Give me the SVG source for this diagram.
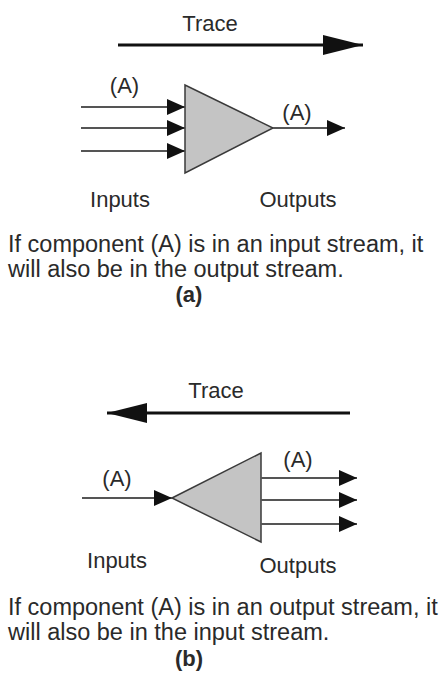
<svg xmlns="http://www.w3.org/2000/svg" width="439" height="677" viewBox="0 0 439 677">
<style>
  .lbl { font-family: "Liberation Sans", Arial, sans-serif; font-size: 22px; fill: #2a2a2a; }
  .body { font-family: "Liberation Sans", Arial, sans-serif; font-size: 23.5px; fill: #2a2a2a; }
  .cap { font-family: "Liberation Sans", Arial, sans-serif; font-size: 22px; font-weight: bold; fill: #2a2a2a; }
  .tri { fill: #c4c4c4; stroke: #3a3a3a; stroke-width: 1.5; }
  .stream { stroke: #555; stroke-width: 2; fill: none; }
  .trace { stroke: #111; stroke-width: 3; fill: none; }
</style>
<defs>
  <marker id="ah" markerUnits="userSpaceOnUse" markerWidth="18" markerHeight="16" refX="18" refY="8" orient="auto">
    <path d="M0,0 L18,8 L0,16 z" fill="#111"/>
  </marker>
  <marker id="th" markerUnits="userSpaceOnUse" markerWidth="40" markerHeight="20" refX="40" refY="10" orient="auto">
    <path d="M0,0 L40,10 L0,20 z" fill="#111"/>
  </marker>
</defs>
<rect width="439" height="677" fill="#ffffff"/>

<!-- Panel (a) -->
<g id="trace-a">
  <text class="lbl" x="210" y="31" text-anchor="middle">Trace</text>
</g>
<g id="mixer-a">
  <polygon class="tri" points="185,85 185,173 273,128"/>
</g>
<g id="labels-a">
  <text class="lbl" x="124.5" y="93" text-anchor="middle">(A)</text>
  <text class="lbl" x="297" y="120" text-anchor="middle">(A)</text>
  <text class="lbl" x="120" y="207" text-anchor="middle">Inputs</text>
  <text class="lbl" x="298" y="207" text-anchor="middle">Outputs</text>
  <text class="body" x="8" y="252">If component (A) is in an input stream, it</text>
  <text class="body" x="8" y="277">will also be in the output stream.</text>
  <text class="cap" x="189" y="302" text-anchor="middle">(a)</text>
</g>

<!-- Panel (b) -->
<g id="trace-b">
  <text class="lbl" x="216" y="398" text-anchor="middle">Trace</text>
</g>
<g id="mixer-b">
  <polygon class="tri" points="172,498 261,453 261,542"/>
</g>
<g id="labels-b">
  <text class="lbl" x="117" y="486" text-anchor="middle">(A)</text>
  <text class="lbl" x="298" y="467" text-anchor="middle">(A)</text>
  <text class="lbl" x="117" y="568" text-anchor="middle">Inputs</text>
  <text class="lbl" x="298" y="573" text-anchor="middle">Outputs</text>
  <text class="body" x="8" y="615">If component (A) is in an output stream, it</text>
  <text class="body" x="8" y="640">will also be in the input stream.</text>
  <text class="cap" x="189" y="666" text-anchor="middle">(b)</text>
</g>

<g id="connectors">
  <line class="trace" x1="118" y1="45" x2="363" y2="45" marker-end="url(#th)"/>
  <line class="stream" x1="81" y1="107" x2="185" y2="107" marker-end="url(#ah)"/>
  <line class="stream" x1="81" y1="128" x2="185" y2="128" marker-end="url(#ah)"/>
  <line class="stream" x1="81" y1="151" x2="185" y2="151" marker-end="url(#ah)"/>
  <line class="stream" x1="273" y1="128" x2="345" y2="128" marker-end="url(#ah)"/>

  <line class="trace" x1="350" y1="413" x2="107" y2="413" marker-end="url(#th)"/>
  <line class="stream" x1="82" y1="498" x2="172" y2="498" marker-end="url(#ah)"/>
  <line class="stream" x1="261" y1="478" x2="357" y2="478" marker-end="url(#ah)"/>
  <line class="stream" x1="261" y1="500" x2="357" y2="500" marker-end="url(#ah)"/>
  <line class="stream" x1="261" y1="524" x2="357" y2="524" marker-end="url(#ah)"/>
</g>
</svg>
